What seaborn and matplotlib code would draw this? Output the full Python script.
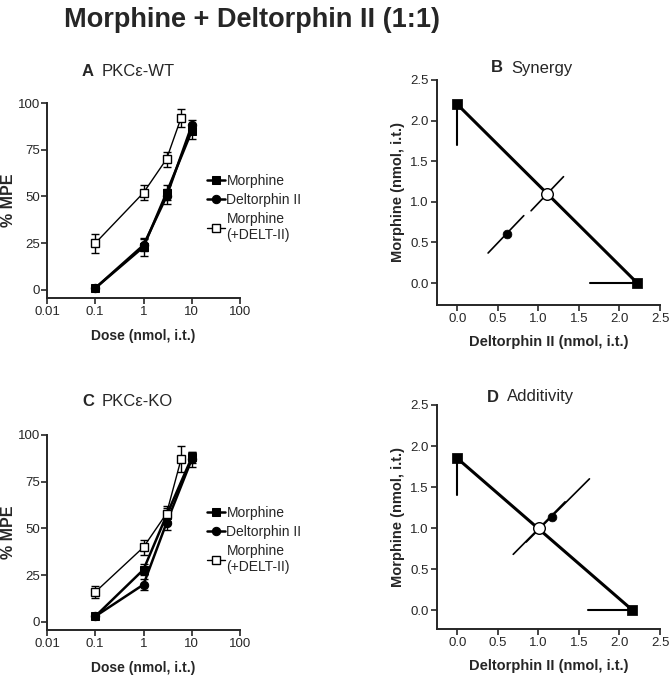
import matplotlib
matplotlib.use("Agg")
import matplotlib.pyplot as plt
import seaborn as sns

sns.set_style("ticks")
plt.rcParams['font.family'] = ['Liberation Sans', 'DejaVu Sans']

# dose-response data (panel A: PKCe-WT, panel C: PKCe-KO)
dose = [0.1, 1, 3, 10]
dose_combo = [0.1, 1, 3, 6]

wt_morphine = [1, 23, 52, 85]
wt_morphine_err = [1, 5, 4, 4]
wt_delt = [1, 24, 50, 88]
wt_delt_err = [1, 3, 4, 3]
wt_combo = [25, 52, 70, 92]
wt_combo_err = [5, 4, 4, 5]

ko_morphine = [3, 28, 57, 88]
ko_morphine_err = [1, 3, 4, 3]
ko_delt = [3, 20, 53, 87]
ko_delt_err = [1, 3, 4, 4]
ko_combo = [16, 40, 58, 87]
ko_combo_err = [3, 4, 4, 7]

# isobolograms (panel B: synergy, panel D: additivity)
syn_morph_ed50, syn_morph_low = 2.20, 1.70
syn_delt_ed50, syn_delt_low = 2.22, 1.64
syn_theor = (1.11, 1.10)
syn_theor_ci = ([0.91, 1.31], [0.89, 1.31])
syn_obs = (0.61, 0.60)
syn_obs_ci = ([0.38, 0.82], [0.37, 0.83])

add_morph_ed50, add_morph_low = 1.85, 1.40
add_delt_ed50, add_delt_low = 2.16, 1.61
add_theor = (1.01, 1.00)
add_theor_ci = ([0.69, 1.33], [0.68, 1.32])
add_obs = (1.17, 1.14)
add_obs_ci = ([0.85, 1.63], [0.83, 1.60])

fig = plt.figure(figsize=(6.7, 6.88), dpi=100)
W, H = 670, 688


def px_axes(left, right, top, bottom):
    return fig.add_axes([left / W, 1 - bottom / H, (right - left) / W, (bottom - top) / H])


def style_axes(ax):
    for s in ['top', 'right']:
        ax.spines[s].set_visible(False)
    for s in ['left', 'bottom']:
        ax.spines[s].set_linewidth(1.4)
    ax.tick_params(width=1.2, length=4, labelsize=9.5, pad=2)
    ax.minorticks_off()


def dose_panel(ax, morph, morph_err, delt, delt_err, combo, combo_err):
    ax.set_xscale('log')
    ax.errorbar(dose_combo, combo, yerr=combo_err, fmt='none', ecolor='black',
                elinewidth=1, capsize=3, capthick=1)
    ax.errorbar(dose, morph, yerr=morph_err, fmt='none', ecolor='black',
                elinewidth=1, capsize=3, capthick=1)
    ax.errorbar(dose, delt, yerr=delt_err, fmt='none', ecolor='black',
                elinewidth=1, capsize=3, capthick=1)
    sns.lineplot(x=dose, y=morph, ax=ax, color='black', lw=1.8, marker='s',
                 markersize=6, markeredgecolor='black', label='Morphine')
    sns.lineplot(x=dose, y=delt, ax=ax, color='black', lw=1.8, marker='o',
                 markersize=6, markeredgecolor='black', label='Deltorphin II')
    sns.lineplot(x=dose_combo, y=combo, ax=ax, color='black', lw=1, marker='s',
                 markersize=6, markerfacecolor='white', markeredgecolor='black',
                 markeredgewidth=1, label='Morphine\n(+DELT-II)')
    ax.set_xlim(0.01, 100)
    ax.set_ylim(-4.3, 100)
    ax.set_xticks([0.01, 0.1, 1, 10, 100])
    ax.set_xticklabels(['0.01', '0.1', '1', '10', '100'])
    ax.set_yticks([0, 25, 50, 75, 100])
    ax.set_xlabel('Dose (nmol, i.t.)', fontsize=10, fontweight='bold', labelpad=8)
    style_axes(ax)
    ax.tick_params(axis='y', pad=1)
    ax.set_ylabel('% MPE', fontsize=11.5, fontweight='bold', labelpad=1)
    ax.minorticks_off()
    ax.legend(loc='center left', bbox_to_anchor=(0.8, 0.46), frameon=False,
              fontsize=10, handlelength=1.3, handletextpad=0.1, labelspacing=0.35,
              borderaxespad=0)


def iso_panel(ax, m50, mlow, d50, dlow, theor, theor_ci, obs, obs_ci):
    sns.lineplot(x=[0, d50], y=[m50, 0], ax=ax, color='black', lw=2.2)
    ax.plot([0, 0], [mlow, m50], color='black', lw=1.5)
    ax.plot([dlow, d50], [0, 0], color='black', lw=1.5)
    ax.plot(theor_ci[0], theor_ci[1], color='black', lw=1.2)
    ax.plot(obs_ci[0], obs_ci[1], color='black', lw=1.2)
    sns.scatterplot(x=[0, d50], y=[m50, 0], ax=ax, marker='s', s=45,
                    color='black', edgecolor='black', zorder=5)
    sns.scatterplot(x=[theor[0]], y=[theor[1]], ax=ax, marker='o', s=70,
                    color='white', edgecolor='black', linewidth=1, zorder=6)
    sns.scatterplot(x=[obs[0]], y=[obs[1]], ax=ax, marker='o', s=40,
                    color='black', edgecolor='black', zorder=6)
    ax.set_xticks([0, 0.5, 1.0, 1.5, 2.0, 2.5])
    ax.set_yticks([0, 0.5, 1.0, 1.5, 2.0, 2.5])
    ax.set_xticklabels(['0.0', '0.5', '1.0', '1.5', '2.0', '2.5'])
    ax.set_yticklabels(['0.0', '0.5', '1.0', '1.5', '2.0', '2.5'])
    ax.set_xlabel('Deltorphin II (nmol, i.t.)', fontsize=10.5, fontweight='bold', labelpad=7)
    ax.set_ylabel('Morphine (nmol, i.t.)', fontsize=10.5, fontweight='bold', labelpad=4)
    style_axes(ax)


axA = px_axes(47, 240, 103, 298)
dose_panel(axA, wt_morphine, wt_morphine_err, wt_delt, wt_delt_err, wt_combo, wt_combo_err)

axC = px_axes(47, 240, 435, 630)
dose_panel(axC, ko_morphine, ko_morphine_err, ko_delt, ko_delt_err, ko_combo, ko_combo_err)

axB = px_axes(437, 660, 80, 305)
iso_panel(axB, syn_morph_ed50, syn_morph_low, syn_delt_ed50, syn_delt_low,
          syn_theor, syn_theor_ci, syn_obs, syn_obs_ci)
axB.set_xlim(-0.25, 2.5)
axB.set_ylim(-0.27, 2.5)

axD = px_axes(437, 660, 405, 629)
iso_panel(axD, add_morph_ed50, add_morph_low, add_delt_ed50, add_delt_low,
          add_theor, add_theor_ci, add_obs, add_obs_ci)
axD.set_xlim(-0.25, 2.5)
axD.set_ylim(-0.23, 2.5)

# panel titles
def panel_title(x, y, letter, name):
    fig.text(x / W, 1 - y / H, letter, fontsize=12, fontweight='bold', va='center', ha='left')
    fig.text((x + 20) / W, 1 - y / H, name, fontsize=12, va='center', ha='left')


panel_title(82, 71, 'A', 'PKCε-WT')
panel_title(491, 68, 'B', 'Synergy')
panel_title(82, 401, 'C', 'PKCε-KO')
panel_title(487, 397, 'D', 'Additivity')

fig.text(252 / W, 1 - 20 / H, 'Morphine + Deltorphin II (1:1)', fontsize=19.5,
         fontweight='bold', ha='center', va='center')

fig.savefig('out.png', dpi=100)
